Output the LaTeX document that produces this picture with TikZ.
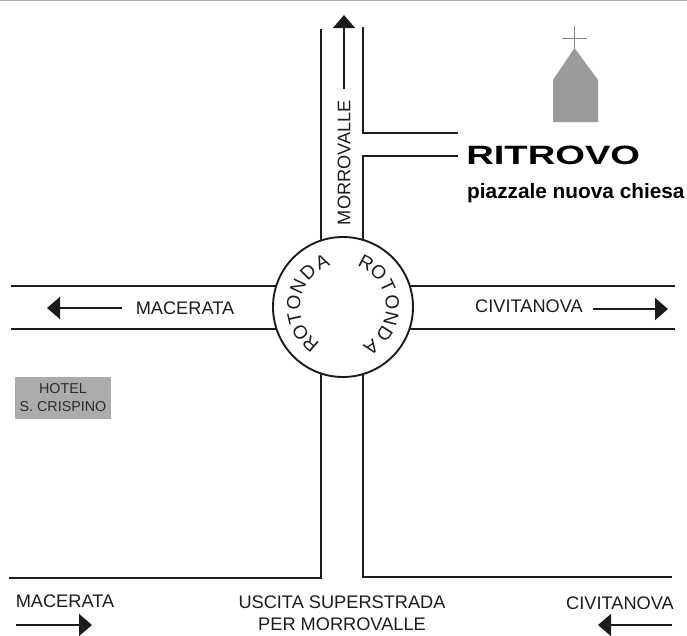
\documentclass[tikz,border=0pt]{standalone}
\usepackage{fontspec}
\setmainfont{Liberation Sans}
\usetikzlibrary{arrows.meta}
\definecolor{ink}{HTML}{1C1C1C}
\definecolor{churchgrey}{HTML}{9A9A9A}
\definecolor{hotelgrey}{HTML}{ABABAB}
\tikzset{
  road/.style={draw=ink,line width=1.9pt},
  dirarrow/.style={draw=ink,line width=1.8pt,-{Triangle[length=13pt,width=22pt]}},
  lbl/.style={text=ink,inner sep=0pt,font=\fontsize{18.2}{20}\selectfont},
  ringletter/.style={text=ink,inner sep=0pt,font=\fontsize{19}{20}\selectfont},
}
\begin{document}
\begin{tikzpicture}[x=1pt,y=-1pt]
\useasboundingbox (0,0) rectangle (687,635);
\fill[white] (0,0) rectangle (687,635);
\fill[gray!70] (0,0) rectangle (687,1.2);

% roundabout
\node[circle,draw=ink,line width=1.9pt,minimum size=140pt,inner sep=0pt] (rot) at (343,307) {};

% named road ends
\coordinate (nwtop) at (321,29);
\coordinate (netop) at (363,27);
\coordinate (bup) at (458,133);
\coordinate (blo) at (458,156);
\coordinate (wup) at (11,286);
\coordinate (wlo) at (11,329);
\coordinate (eup) at (675,286);
\coordinate (elo) at (675,329);
\coordinate (swb) at (9,578);
\coordinate (seb) at (672,577);

% north road with branch to the meeting point
\draw[road] (nwtop) -- (321,241);
\draw[road] (netop) -- (363,133) -- (bup);
\draw[road] (blo) -- (363,156) -- (363,240);
% west and east roads
\draw[road] (wup) -- (277,286);
\draw[road] (wlo) -- (277,329);
\draw[road] (eup) -- (409,286);
\draw[road] (elo) -- (409,329);
% south road
\draw[road] (321,373) -- (321,578) -- (swb);
\draw[road] (363,374) -- (363,577) -- (seb);

% ring labels, letter by letter round the circle
\foreach \ch/\ang/\id in {R/229/a,O/211/b,T/193/c,O/175/d,N/155/e,D/135/f,A/115/g}
  \node[ringletter,rotate=\ang-90] (l\id) at ({343+49.5*cos(\ang)},{307-49.5*sin(\ang)}) {\ch};
\foreach \ch/\ang/\id in {R/62/a,O/44/b,T/25/c,O/5/d,N/-14/e,D/-33/f,A/-55/g}
  \node[ringletter,rotate=\ang-90] (r\id) at ({343+49.5*cos(\ang)},{307-49.5*sin(\ang)}) {\ch};

% direction arrows
\coordinate (a1s) at (344,89);  \coordinate (a1e) at (344,15);
\coordinate (a2s) at (122,308); \coordinate (a2e) at (47,308);
\coordinate (a3s) at (593,309); \coordinate (a3e) at (668,309);
\coordinate (a4s) at (16,625);  \coordinate (a4e) at (92,625);
\coordinate (a5s) at (672,625); \coordinate (a5e) at (598,625);
\draw[dirarrow] (a1s) -- (a1e);
\draw[dirarrow] (a2s) -- (a2e);
\draw[dirarrow] (a3s) -- (a3e);
\draw[dirarrow] (a4s) -- (a4e);
\draw[dirarrow] (a5s) -- (a5e);

% road labels
\node[lbl,rotate=90] (lmor) at (344,162.5) {MORROVALLE};
\node[lbl] (lmac) at (185,308) {MACERATA};
\node[lbl] (lciv) at (529,306) {CIVITANOVA};
\node[lbl] (lmacb) at (65,601) {MACERATA};
\node[lbl] (lcivb) at (620,603) {CIVITANOVA};
\node[lbl] (lusc) at (342,602) {USCITA SUPERSTRADA};
\node[lbl] (lper) at (342,624) {PER MORROVALLE};

% meeting point
\node[inner sep=0pt,text=black,anchor=west,xscale=1.44,font=\bfseries\fontsize{26.5}{28}\selectfont] (rit) at (466,155.5) {RITROVO};
\node[inner sep=0pt,text=black,anchor=west,font=\bfseries\fontsize{20.8}{22}\selectfont] (piaz) at (467,193.5) {piazzale nuova chiesa};

% church
\fill[churchgrey] (553,122) -- (553,80) -- (574.5,48) -- (598,80) -- (598,122) -- cycle;
\draw[draw=gray,line width=0.9pt] (574.5,26) -- (574.5,48) (562,38) -- (587,38);

% hotel
\node[fill=hotelgrey,minimum width=96pt,minimum height=42pt,inner sep=0pt,align=center,text=ink!85!gray,
  font=\fontsize{14.3}{18}\selectfont] (hotel) at (63,398) {HOTEL\\S. CRISPINO};
\end{tikzpicture}
\end{document}
